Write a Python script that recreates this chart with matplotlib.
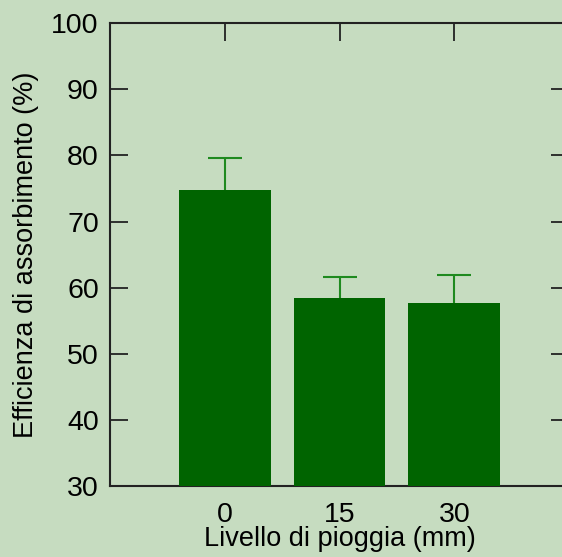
import numpy as np
import matplotlib
matplotlib.use('Agg')
import matplotlib.pyplot as plt

# Data
livello = ['0', '15', '30']
efficienza = [74.8, 58.4, 57.7]
errore = [4.8, 3.2, 4.3]

plt.rcParams['font.family'] = ['Liberation Sans', 'DejaVu Sans']

bg = '#c6dcc0'
fig = plt.figure(figsize=(5.62, 5.57), dpi=100, facecolor=bg)
ax = fig.add_axes([0.1957, 0.1267, 0.817, 0.832])
ax.set_facecolor('none')

x = np.arange(len(livello))
ax.bar(x, efficienza, width=0.8, color='#006400', zorder=3)
eb = ax.errorbar(x, efficienza, yerr=[np.zeros(len(errore)), errore], fmt='none',
                 ecolor='#1f8a1f', elinewidth=1.5, capsize=12, capthick=1.5, zorder=2)
eb[1][0].set_visible(False)  # no lower cap

ax.set_xlim(-1, 3)
ax.set_ylim(30, 100)
ax.set_xticks(x)
ax.set_xticklabels(livello)
ax.set_yticks(np.arange(30, 101, 10))

for s in ax.spines.values():
    s.set_linewidth(1.5)
    s.set_color('#222222')

ax.tick_params(axis='both', direction='in', length=13, width=1.3, labelsize=20.5,
               top=True, right=True, color='#222222')
ax.tick_params(axis='x', pad=11)
ax.tick_params(axis='y', pad=8)

ax.set_xlabel('Livello di pioggia (mm)', fontsize=19.5, labelpad=-1)
ax.set_ylabel('Efficienza di assorbimento (%)', fontsize=19.5, labelpad=9)

plt.savefig('out.png', dpi=100, facecolor=bg)
